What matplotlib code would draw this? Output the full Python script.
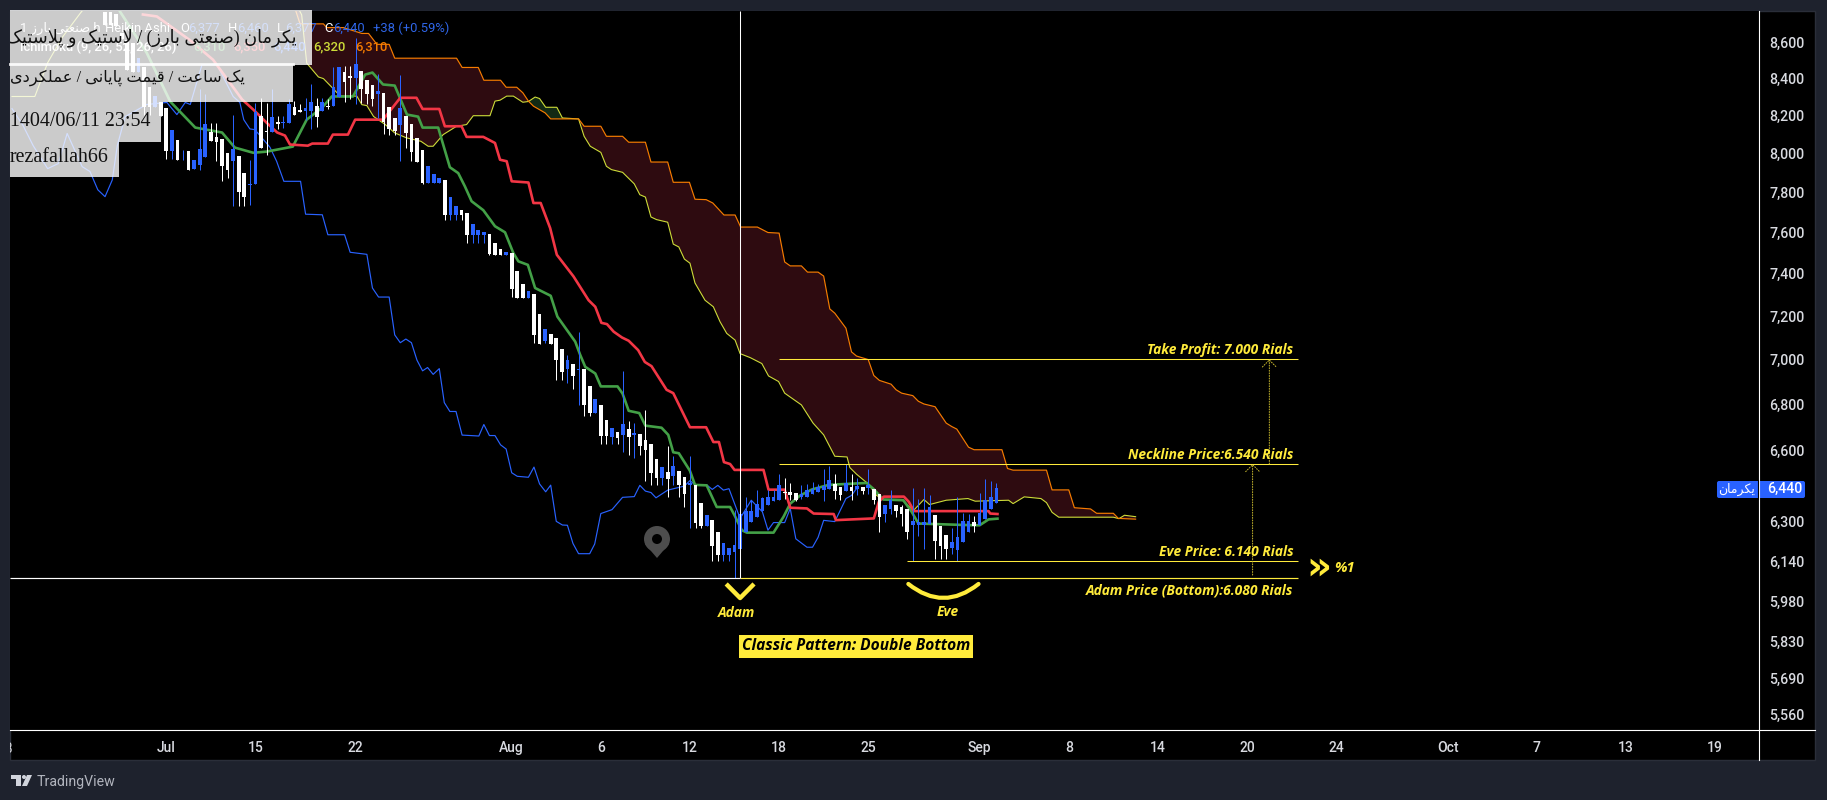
import matplotlib
matplotlib.use("Agg")
import matplotlib.pyplot as plt
from matplotlib.patches import Rectangle, Circle, Polygon, PathPatch, FancyBboxPatch
from matplotlib.path import Path
import numpy as np

# heikin ashi bars, hourly, values in rials. index 0 is the first bar of July
bar_index = list(range(-11, 150))
bar_open = [
    8770, 8770, 8762, 8650, 8611, 8595, 8438, 8465, 8357, 8244,
    8276, 8243, 8013, 8073, 8017, 8016, 7921, 7942, 7981, 8112,
    8089, 8079, 8005, 7961, 7990, 7903, 7839, 7843, 8200, 8117,
    8112, 8165, 8161, 8160, 8246, 8230, 8224, 8224, 8253, 8224,
    8253, 8251, 8300, 8436, 8413, 8402, 8444, 8395, 8363, 8314,
    8323, 8247, 8188, 8153, 8200, 8156, 8082, 8021, 7850, 7850,
    7850, 7867, 7686, 7686, 7715, 7698, 7587, 7587, 7590, 7595,
    7551, 7522, 7490, 7500, 7414, 7352, 7284, 7305, 7209, 7085,
    7116, 7098, 7047, 6955, 6978, 6953, 6956, 6880, 6759, 6796,
    6730, 6657, 6678, 6665, 6691, 6664, 6669, 6643, 6626, 6563,
    6481, 6506, 6490, 6511, 6485, 6452, 6452, 6378, 6280, 6308,
    6259, 6165, 6165, 6175, 6189, 6259, 6300, 6320, 6345, 6370,
    6383, 6391, 6424, 6424, 6420, 6403, 6403, 6415, 6424, 6432,
    6436, 6456, 6444, 6428, 6444, 6436, 6444, 6440, 6436, 6415,
    6333, 6350, 6370, 6358, 6350, 6288, 6288, 6288, 6292, 6329,
    6280, 6247, 6193, 6185, 6218, 6259, 6300, 6288, 6312, 6350,
    6377,
]
bar_close = [
    8700, 8700, 8692, 8620, 8449, 8438, 8514, 8249, 8244, 8303,
    8200, 8013, 8126, 7966, 8021, 7915, 7969, 8026, 8158, 8068,
    8063, 7935, 7918, 8024, 7805, 7777, 7846, 8218, 8028, 8112,
    8195, 8156, 8168, 8260, 8206, 8222, 8242, 8273, 8195, 8273,
    8246, 8354, 8462, 8381, 8404, 8481, 8341, 8318, 8291, 8330,
    8165, 8130, 8117, 8242, 8108, 8007, 7957, 7850, 7938, 7897,
    7877, 7686, 7778, 7735, 7686, 7587, 7645, 7615, 7605, 7497,
    7492, 7492, 7507, 7327, 7285, 7284, 7319, 7110, 7071, 7140,
    7071, 6996, 6942, 6996, 6925, 6956, 6797, 6759, 6822, 6660,
    6658, 6695, 6652, 6713, 6657, 6673, 6617, 6600, 6502, 6481,
    6526, 6477, 6531, 6452, 6415, 6459, 6296, 6280, 6329, 6201,
    6165, 6214, 6193, 6205, 6333, 6345, 6345, 6374, 6399, 6403,
    6403, 6452, 6420, 6411, 6391, 6415, 6432, 6436, 6444, 6448,
    6473, 6428, 6411, 6460, 6428, 6448, 6428, 6452, 6387, 6320,
    6370, 6387, 6345, 6333, 6259, 6304, 6300, 6300, 6362, 6222,
    6201, 6189, 6218, 6238, 6304, 6304, 6280, 6337, 6391, 6403,
    6440,
]
bar_high = [
    8770, 8770, 8762, 8650, 8611, 8595, 8514, 8465, 8357, 8303,
    8276, 8243, 8126, 8073, 8021, 8016, 7969, 8345, 8318, 8161,
    8161, 8079, 8005, 8205, 7990, 7903, 7969, 8266, 8296, 8266,
    8341, 8200, 8200, 8287, 8278, 8260, 8296, 8368, 8296, 8296,
    8287, 8463, 8462, 8467, 8467, 8622, 8444, 8395, 8363, 8427,
    8323, 8247, 8188, 8417, 8200, 8156, 8082, 8021, 7938, 7897,
    7877, 7867, 7778, 7735, 7715, 7698, 7645, 7615, 7605, 7595,
    7551, 7522, 7507, 7500, 7414, 7352, 7319, 7305, 7209, 7140,
    7116, 7098, 7047, 7022, 6978, 7124, 6956, 6880, 6822, 6796,
    6730, 6695, 6678, 6947, 6726, 6716, 6669, 6774, 6626, 6563,
    6526, 6617, 6575, 6511, 6485, 6575, 6452, 6378, 6329, 6308,
    6259, 6214, 6193, 6349, 6432, 6402, 6388, 6432, 6400, 6432,
    6432, 6497, 6481, 6460, 6420, 6452, 6456, 6463, 6456, 6518,
    6531, 6497, 6444, 6539, 6497, 6481, 6444, 6518, 6436, 6415,
    6370, 6432, 6370, 6370, 6350, 6440, 6395, 6440, 6408, 6329,
    6280, 6247, 6272, 6403, 6337, 6333, 6321, 6420, 6477, 6470,
    6460,
]
bar_low = [
    8700, 8700, 8692, 8620, 8449, 8438, 8438, 8206, 8206, 8244,
    8200, 7973, 7973, 7966, 7969, 7915, 7921, 7918, 7981, 8068,
    7961, 7858, 7873, 7731, 7735, 7731, 7740, 7843, 8028, 7995,
    8112, 8130, 8135, 8160, 8206, 8218, 8179, 8130, 8138, 8224,
    8238, 8251, 8300, 8273, 8291, 8260, 8266, 8260, 8251, 8188,
    8105, 8100, 8100, 7961, 8029, 7961, 7957, 7846, 7850, 7850,
    7850, 7661, 7661, 7661, 7661, 7548, 7548, 7548, 7548, 7491,
    7492, 7492, 7490, 7289, 7285, 7284, 7284, 7076, 7071, 7076,
    7071, 6908, 6908, 6895, 6868, 6796, 6749, 6749, 6759, 6626,
    6626, 6626, 6626, 6593, 6577, 6567, 6577, 6470, 6452, 6452,
    6452, 6403, 6452, 6403, 6361, 6272, 6272, 6272, 6280, 6140,
    6140, 6140, 6140, 6075, 6189, 6259, 6300, 6320, 6345, 6370,
    6383, 6391, 6395, 6388, 6384, 6395, 6403, 6415, 6424, 6383,
    6436, 6395, 6387, 6428, 6391, 6411, 6415, 6415, 6374, 6259,
    6300, 6333, 6320, 6284, 6230, 6140, 6243, 6189, 6292, 6148,
    6148, 6148, 6169, 6140, 6218, 6259, 6259, 6288, 6312, 6350,
    6377,
]

# ichimoku lines as (bar, price) pairs
tenkan = [
    (-8.3, 8773), (-3.5, 8541), (0.7, 8276), (5.2, 8137), (10, 8111), (12.3, 8032), (15.6, 8005),
    (18, 8011), (22.7, 8037), (25.2, 8179), (28, 8244), (29.7, 8303), (33.5, 8303), (35.7, 8422),
    (37, 8433), (38.9, 8368), (41, 8362), (43.2, 8206), (45.2, 8195), (46, 8137), (48.8, 8137),
    (50.9, 7930), (52.4, 7900), (53.6, 7832), (54.8, 7757), (56.9, 7712), (59, 7632), (60.8, 7602),
    (62.3, 7500), (63.2, 7460), (64.9, 7443), (66.2, 7332), (69, 7295), (70.2, 7197), (71.9, 7135),
    (73.4, 7081), (74.3, 7020), (75.2, 6966), (77, 6936), (78, 6878), (81, 6878), (81.9, 6846),
    (83, 6770), (84.9, 6760), (86, 6705), (88.9, 6696), (90.1, 6665), (91, 6590), (92, 6586),
    (94, 6511), (94.9, 6452), (97, 6450), (98.8, 6360), (101.2, 6360), (102, 6326), (103.3, 6265),
    (104.2, 6255), (109, 6255), (110.8, 6320), (112, 6374), (113.8, 6408), (115.9, 6433),
    (118.9, 6452), (122.2, 6456), (125.7, 6460), (126.9, 6436), (128.7, 6391), (132.3, 6388),
    (133.8, 6340), (135, 6292), (144.9, 6285), (146, 6285), (147.6, 6309), (149.2, 6312),
]
kijun = [
    (-4.2, 8757), (-1.7, 8746), (4.3, 8611), (8.4, 8503), (13.6, 8287), (15.6, 8233), (18, 8163),
    (19.9, 8111), (21.3, 8095), (22.2, 8048), (25.4, 8042), (26.2, 8053), (29, 8053), (29.9, 8100),
    (32.6, 8100), (33.9, 8179), (38.9, 8179), (42, 8296), (44.9, 8296), (46, 8236), (49, 8236),
    (50, 8144), (53, 8144), (53.9, 8088), (56.9, 8088), (59, 8056), (59.9, 7969), (61.1, 7961),
    (62, 7858), (65, 7852), (65.9, 7748), (67.2, 7748), (68.9, 7623), (70.1, 7492), (73.1, 7387),
    (74.6, 7324), (75.8, 7274), (77, 7243), (78.1, 7168), (79.1, 7162), (80.3, 7127), (81.8, 7100),
    (83, 7085), (84.7, 7042), (85.9, 6988), (87.1, 6969), (89.8, 6863), (91, 6848), (94, 6698),
    (96.9, 6698), (98.2, 6634), (99.2, 6634), (100.1, 6548), (101.2, 6540), (102, 6515),
    (107.2, 6515), (108.1, 6432), (111, 6432), (112, 6357), (115, 6354), (116.2, 6333),
    (119.8, 6331), (120.2, 6306), (127, 6313), (127.9, 6381), (128.8, 6403), (132.4, 6403),
    (133.3, 6381), (134.2, 6343), (147.6, 6343), (147.9, 6333), (149.2, 6331),
]
chikou = [
    (-27.7, 8238), (-25.7, 8147), (-23.9, 8042), (-21.3, 7923), (-19.4, 7949), (-17.8, 8106),
    (-15.1, 7933), (-13.7, 7908), (-12.3, 7815), (-11, 7780), (-9.7, 7865), (-8.8, 8042),
    (-7.4, 8195), (-3.5, 8260), (0.1, 8271), (1.9, 8206), (3.4, 8271), (4.3, 8260), (6.4, 8476),
    (9.1, 8476), (12, 8303), (13.2, 8271), (13.9, 8179), (15, 8130), (15.9, 8126), (18.6, 8034),
    (19.8, 7961), (21.1, 7858), (24.1, 7858), (25, 7692), (28, 7689), (29, 7590), (32, 7590),
    (33, 7504), (36, 7494), (37, 7332), (38.1, 7289), (40, 7289), (41, 7112), (42, 7076),
    (43, 7093), (44, 7076), (45, 6996), (46, 6948), (46.9, 6963), (47.9, 6932), (49, 6958),
    (49.9, 6806), (50.9, 6767), (52, 6767), (53.1, 6664), (56.1, 6660), (57, 6710), (58, 6662),
    (59, 6662), (60, 6622), (61, 6604), (62, 6503), (63, 6488), (65, 6484), (66, 6527), (67, 6456),
    (68.1, 6423), (69, 6451), (70, 6301), (71.1, 6286), (72, 6285), (73, 6211), (74, 6170),
    (76, 6170), (76.9, 6209), (78, 6333), (80, 6349), (81.9, 6400), (84, 6403), (85, 6450),
    (86, 6426), (87, 6420), (87.9, 6398), (90, 6430), (93, 6447), (94, 6470), (94.9, 6452),
    (97, 6452), (98, 6433), (99, 6450), (100, 6430), (101, 6436), (103, 6313), (105, 6388),
    (107, 6340), (108, 6265), (109, 6296), (111, 6296), (112, 6354), (113, 6230), (115, 6196),
    (116, 6196), (117, 6236), (118, 6305), (120, 6300), (122, 6395), (123, 6408), (124, 6440),
]
senkou_a = [
    (-27.7, 8303), (-23.6, 8303), (-21.3, 8487), (-18.7, 8627), (-15.5, 8762), (-12, 8900), (22, 8900),
    (24.3, 8755), (25.2, 8485), (27.3, 8409), (28.2, 8400), (30, 8344), (31.2, 8305), (34.2, 8305),
    (35.1, 8259), (36, 8254), (37.2, 8196), (39.3, 8153), (41, 8109), (43.1, 8083), (45.7, 8065),
    (47, 8039), (47.9, 8039), (49.7, 8100), (52.1, 8144), (53.9, 8153), (55.1, 8200), (58.1, 8200),
    (59, 8278), (59.9, 8283), (61.1, 8305), (62.3, 8305), (64, 8272), (65, 8276), (66.2, 8300),
    (67, 8292), (68.1, 8245), (70.1, 8245), (71.1, 8188), (74, 8183), (75, 8091), (76.1, 8039),
    (78, 8007), (79, 7935), (79.9, 7918), (81.9, 7904), (84, 7845), (85, 7790), (86, 7778),
    (87, 7678), (88, 7665), (90, 7652), (91, 7544), (92, 7530), (93, 7471), (94, 7451), (94.9, 7356),
    (96.7, 7274), (98.2, 7243), (99.4, 7173), (100.6, 7119), (102.1, 7088), (103, 7026), (104.8, 7008),
    (106.9, 6981), (108.1, 6925), (109.9, 6900), (111, 6848), (114, 6796), (116.1, 6716), (118, 6665),
    (120, 6573), (122.2, 6570), (122.7, 6525), (123.9, 6497), (126, 6456), (127.5, 6408), (128.7, 6391),
    (132, 6391), (134.1, 6345), (136, 6391), (137, 6370), (140, 6388), (143.9, 6395), (145.2, 6384),
    (151.2, 6388), (152, 6374), (154, 6402), (157, 6395), (158, 6378), (159, 6338), (160.2, 6318),
    (170, 6318), (171, 6312), (172, 6326), (174, 6320),
]
senkou_b = [
    (22, 8900), (24, 8704), (28.2, 8704), (28.8, 8683), (31.8, 8683), (35.1, 8650), (36.3, 8650),
    (37.8, 8589), (40, 8589), (41, 8512), (52.1, 8512), (53.1, 8461), (56, 8461), (57, 8391), (60, 8391),
    (61, 8353), (62.9, 8353), (64, 8323), (65, 8278), (65.9, 8251), (68, 8215), (69, 8183), (74, 8183),
    (75, 8144), (78, 8144), (79, 8091), (81.9, 8091), (83, 8060), (86, 8060), (87, 7957), (90, 7957),
    (91, 7853), (93.9, 7853), (94.9, 7767), (96.9, 7765), (98.1, 7748), (100.1, 7688), (102.1, 7688),
    (103.1, 7628), (106.1, 7628), (108, 7601), (110, 7598), (111, 7457), (112, 7438), (114, 7438),
    (115.1, 7408), (117, 7408), (118, 7389), (119.1, 7233), (120, 7213), (122, 7143), (123, 7034),
    (123.9, 7015), (126, 6999), (127, 6927), (128, 6905), (130.1, 6888), (131, 6863), (132, 6848),
    (134, 6837), (135, 6812), (136, 6800), (138, 6788), (140, 6716), (141, 6701), (141.9, 6690),
    (144, 6612), (145, 6601), (150, 6601), (151, 6521), (152, 6514), (158, 6514), (159, 6431),
    (162, 6431), (163, 6357), (165.9, 6352), (167, 6334), (170, 6334), (170.9, 6313), (174, 6310),
]

# axis labels
price_ticks = [8600, 8400, 8200, 8000, 7800, 7600, 7400, 7200, 7000, 6800, 6600, 6300, 6140, 5980, 5830, 5690, 5560]
time_ticks = [0, 16, 34, 62, 78, 94, 110, 126, 146, 162, 178, 194, 210, 230, 246, 262, 278]
time_labels = ["Jul", "15", "22", "Aug", "6", "12", "18", "25", "Sep", "8", "14", "20", "24", "Oct", "7", "13", "19"]

# price levels of the pattern drawing
take_profit = 7000
neckline = 6540
eve_price = 6140
adam_price = 6075
last_price = 6440

BG = "#1e222d"
BLUE = "#2962ff"
YELLOW = "#ffeb3b"
GREEN = "#43a047"
RED = "#f23645"
LINE_Y = "#cddc39"
ORANGE = "#f57c00"
LABEL = "#d8dae0"
SERIF = ["Liberation Serif", "DejaVu Sans"]
ITALIC = dict(family="Open Sans", style="italic", weight="bold", color=YELLOW)

# persian letters as (isolated, final, initial, medial). two forms only = no join to the next letter
FORMS = {
    "ا": "\uFE8D\uFE8E", "د": "\uFEA9\uFEAA", "ر": "\uFEAD\uFEAE", "ز": "\uFEAF\uFEB0", "و": "\uFEED\uFEEE",
    "\uFEFB": "\uFEFB\uFEFC",
    "ب": "\uFE8F\uFE90\uFE91\uFE92", "پ": "\uFB56\uFB57\uFB58\uFB59", "ت": "\uFE95\uFE96\uFE97\uFE98",
    "س": "\uFEB1\uFEB2\uFEB3\uFEB4", "ص": "\uFEB9\uFEBA\uFEBB\uFEBC", "ع": "\uFEC9\uFECA\uFECB\uFECC",
    "ق": "\uFED5\uFED6\uFED7\uFED8", "ک": "\uFB8E\uFB8F\uFB90\uFB91", "ل": "\uFEDD\uFEDE\uFEDF\uFEE0",
    "م": "\uFEE1\uFEE2\uFEE3\uFEE4", "ن": "\uFEE5\uFEE6\uFEE7\uFEE8", "ی": "\uFBFC\uFBFD\uFBFE\uFBFF",
}


def shape_fa(text):
    # matplotlib has no bidi or shaping, so pick the joined forms and reverse by hand
    text = text.replace("لا", "\uFEFB")
    out = []
    for i, ch in enumerate(text):
        forms = FORMS.get(ch)
        if forms is None:
            out.append({"(": ")", ")": "("}.get(ch, ch))
            continue
        prev = FORMS.get(text[i - 1]) if i > 0 else None
        nxt = FORMS.get(text[i + 1]) if i + 1 < len(text) else None
        join_prev = prev is not None and len(prev) == 4
        join_next = nxt is not None and len(forms) == 4
        if join_prev and join_next:
            out.append(forms[3])
        elif join_prev:
            out.append(forms[1])
        elif join_next:
            out.append(forms[2])
        else:
            out.append(forms[0])
    return "".join(reversed(out))


def draw_line(axis, pairs, color, width, order=3):
    xs, ys = zip(*pairs)
    axis.plot(xs, ys, color=color, lw=width, solid_joinstyle="round", zorder=order)


W, H = 1827, 800
fig = plt.figure(figsize=(W / 100, H / 100), dpi=100, facecolor=BG)
plt.rcParams["font.family"] = ["Roboto", "DejaVu Sans"]

# black pane behind price and time scale
back = fig.add_axes([0, 0, 1, 1], zorder=-1)
back.set_xlim(0, W)
back.set_ylim(H, 0)
back.axis("off")
back.add_patch(Rectangle((10, 11), 1805, 749, facecolor="black", edgecolor="#2a2e39", lw=1))

ax = fig.add_axes([10 / W, (H - 730) / H, 1749 / W, 719 / H], facecolor="black")
ax.set_yscale("log")
ax.set_xlim(-28.06, 285.9)
ax.set_ylim(5502.5, 8777)
for side in ax.spines.values():
    side.set_visible(False)
ax.yaxis.tick_right()
ax.set_yticks(price_ticks)
ax.set_yticklabels([f"{p:,}" for p in price_ticks], fontsize=10.2, color=LABEL, fontweight="medium")
ax.minorticks_off()
ax.set_xticks(time_ticks)
ax.set_xticklabels(time_labels, fontsize=10, color=LABEL, fontweight="medium")
ax.tick_params(axis="y", length=0, pad=7.5)
ax.tick_params(axis="x", length=0, pad=8)

# cloud: whole band in maroon, then the short bullish twist in green on top
ax_x, ax_y = zip(*senkou_a)
bx, by = zip(*senkou_b)
ax.fill(list(ax_x[6:]) + list(bx[::-1]), list(ax_y[6:]) + list(by[::-1]), color="#2e0b10", lw=0, zorder=1)
twist_a = [p for p in senkou_a if 65 <= p[0] <= 71.1]
twist_b = [p for p in senkou_b if 65 <= p[0] <= 69] + [(71.1, 8183)]
tx = [p[0] for p in twist_a] + [p[0] for p in twist_b[::-1]]
ty = [p[1] for p in twist_a] + [p[1] for p in twist_b[::-1]]
ax.fill(tx, ty, color="#122a14", lw=0, zorder=1)

draw_line(ax, chikou, BLUE, 0.85)
draw_line(ax, senkou_a, LINE_Y, 0.8)
draw_line(ax, senkou_b, ORANGE, 0.85)
draw_line(ax, tenkan, GREEN, 1.9, order=3.5)
draw_line(ax, kijun, RED, 1.9, order=3.5)

# bars, white falling and blue rising
bar_x = np.array(bar_index)
o = np.array(bar_open)
c = np.array(bar_close)
colors = np.where(c >= o, BLUE, "white")
ax.vlines(bar_x, bar_low, bar_high, colors=colors, lw=0.72, zorder=4)
ax.bar(bar_x, np.abs(c - o), bottom=np.minimum(o, c), width=0.66, color=colors, lw=0, zorder=4)

# pattern levels
ax.hlines([take_profit, neckline], 110, 203.2, color=YELLOW, lw=0.75, zorder=5)
ax.hlines(eve_price, 133, 203.2, color=YELLOW, lw=0.75, zorder=5)
ax.hlines(adam_price, 103, 203.2, color=YELLOW, lw=0.85, zorder=5)
ax.hlines(adam_price, -28.06, 103, color="white", lw=0.85, zorder=5)
ax.vlines(103, adam_price, 8777, color="white", lw=0.75, zorder=5)

level_labels = [
    (take_profit, "Take Profit: 7.000 Rials", 9),
    (neckline, "Neckline Price:6.540 Rials", 9),
    (eve_price, "Eve Price: 6.140 Rials", 9),
    (adam_price, "Adam Price (Bottom):6.080 Rials", -13),
]
for level, label, shift in level_labels:
    ax.annotate(label, (202.3, level), xytext=(0, shift), textcoords="offset pixels",
                ha="right", va="center", fontsize=9.9, zorder=6, **ITALIC)

arrow = dict(arrowstyle="->,head_length=0.5,head_width=0.5", color="#c9b92e", lw=0.7, ls=":", shrinkA=0, shrinkB=0)
ax.annotate("", xy=(198, take_profit), xytext=(198, neckline), arrowprops=arrow, zorder=5)
ax.annotate("", xy=(195, neckline), xytext=(195, adam_price + 10), arrowprops=arrow, zorder=5)

# adam and eve marks
ax.plot([100.5, 103, 105.5], [6050, 5995, 6050], color=YELLOW, lw=3.2, solid_capstyle="butt", zorder=5)
eve_curve = Path([(133.2, 6050), (139.5, 5941), (145.8, 6050)], [Path.MOVETO, Path.CURVE3, Path.CURVE3])
ax.add_patch(PathPatch(eve_curve, fc="none", ec=YELLOW, lw=3.0, capstyle="round", zorder=5))

# everything below is screen furniture, placed in pixels
ov = fig.add_axes([0, 0, 1, 1], facecolor="none")
ov.set_xlim(0, W)
ov.set_ylim(H, 0)
ov.axis("off")

ov.plot([1759, 1759], [11, 760], color="white", lw=0.8)
ov.plot([10, 1815], [730, 730], color="white", lw=0.8)

clipped = ov.text(5, 749, "28", ha="center", va="center", fontsize=10, color=LABEL, clip_on=True)
clipped.set_clip_path(Rectangle((10, 731), 1749, 29, transform=ov.transData))

ov.text(948, 612, "Eve", ha="center", va="center", fontsize=9.9, **ITALIC)
ov.text(737, 613, "Adam", ha="center", va="center", fontsize=9.9, **ITALIC)
ov.add_patch(Rectangle((739, 635), 234, 23, facecolor=YELLOW, lw=0))
ov.text(856, 646.5, "Classic Pattern: Double Bottom", ha="center", va="center", fontsize=11.2,
        family="Open Sans", style="italic", weight="bold", color="black")
ov.text(1319, 568, "»", ha="center", va="center", fontsize=28, family="DejaVu Sans", weight="bold", color=YELLOW)
ov.text(1334, 568, "%1", ha="left", va="center", fontsize=10.5, **ITALIC)

# map pin
ov.add_patch(Circle((657, 539), 13, facecolor="#4d4d4d", lw=0))
ov.add_patch(Polygon([(645, 544), (669, 544), (657, 558)], facecolor="#4d4d4d", lw=0))
ov.add_patch(Circle((657, 539), 5, facecolor="black", lw=0))

# last price tag
ov.add_patch(FancyBboxPatch((1717, 481), 88, 17, boxstyle="round,pad=0,rounding_size=2", facecolor=BLUE, lw=0))
ov.plot([1758, 1758], [480, 499], color="black", lw=0.8)
ov.text(1737, 489, shape_fa("یکرمان"), ha="center", va="center", fontsize=9, color="white", family="DejaVu Sans")
ov.text(1785, 489, f"{last_price:,}", ha="center", va="center", fontsize=10.2, color="white", weight="medium")

# chart legend, sits under the boxes
head_blue = "#2f66e8"
ov.text(20, 28, "1 " + shape_fa("صنعتی بارز") + " h", va="center", fontsize=9.4, color="white")
ov.text(105, 28, "Heikin Ashi", va="center", fontsize=9.4, color="white")
for x, s, col in [(180, "O", "white"), (188, "6,377", head_blue), (228, "H", "white"), (237, "6,460", head_blue),
                  (277, "L", "white"), (285, "6,377", head_blue), (324, "C", "white"), (333, "6,440", head_blue),
                  (373, "+38 (+0.59%)", head_blue)]:
    ov.text(x, 28, s, va="center", fontsize=9.4, color=col)
ov.text(20, 47, "Ichimoku (9, 26, 52, 26, 26)", va="center", fontsize=9.4, color="white", weight="medium")
for x, s, col in [(193, "6,310", GREEN), (233, "6,350", RED), (273, "6,440", BLUE), (313, "6,320", LINE_Y),
                  (355, "6,310", ORANGE)]:
    ov.text(x, 47, s, va="center", fontsize=9.4, color=col, weight="medium")

# watermark boxes over the top left corner, white at 80 percent
for x0, y0, x1, y1 in [(10, 10, 312, 65), (10, 65, 293, 102), (10, 102, 161, 142), (10, 142, 119, 177)]:
    ov.add_patch(Rectangle((x0, y0), x1 - x0, y1 - y0, facecolor="white", alpha=0.8, lw=0, zorder=8))
ov.plot([10, 293], [63.5, 63.5], color="white", lw=2.0, alpha=0.9, zorder=8)

line1 = ov.text(297, 38, shape_fa("یکرمان (صنعتی بارز) / لاستیک و پلاستیک"), ha="right", va="center",
                fontsize=12.8, color="#111111", family=SERIF, zorder=9, clip_on=True)
line1.set_clip_path(Rectangle((10, 10), 302, 55, transform=ov.transData))
line2 = ov.text(245, 78, shape_fa("یک ساعت / قیمت پایانی / عملکردی"), ha="right", va="center",
                fontsize=11.7, color="#111111", family=SERIF, zorder=9, clip_on=True)
line2.set_clip_path(Rectangle((10, 65), 283, 37, transform=ov.transData))
ov.text(10, 122, "1404/06/11 23:54", ha="left", va="center", fontsize=14.4, color="#111111", family=SERIF, zorder=9)
ov.text(10, 158, "rezafallah66", ha="left", va="center", fontsize=14.4, color="#111111", family=SERIF, zorder=9)

# tradingview mark
ov.add_patch(Polygon([(11, 775), (21, 775), (21, 786), (16, 786), (16, 779), (11, 779)], facecolor="#d1d4dc", lw=0))
ov.add_patch(Circle((24, 777), 2, facecolor="#d1d4dc", lw=0))
ov.add_patch(Polygon([(27, 775), (32, 775), (27, 786), (22, 786)], facecolor="#d1d4dc", lw=0))
ov.text(37, 782, "TradingView", va="center", fontsize=10.2, color="#b2b5be")

fig.savefig("out.png", dpi=100, facecolor=BG)
